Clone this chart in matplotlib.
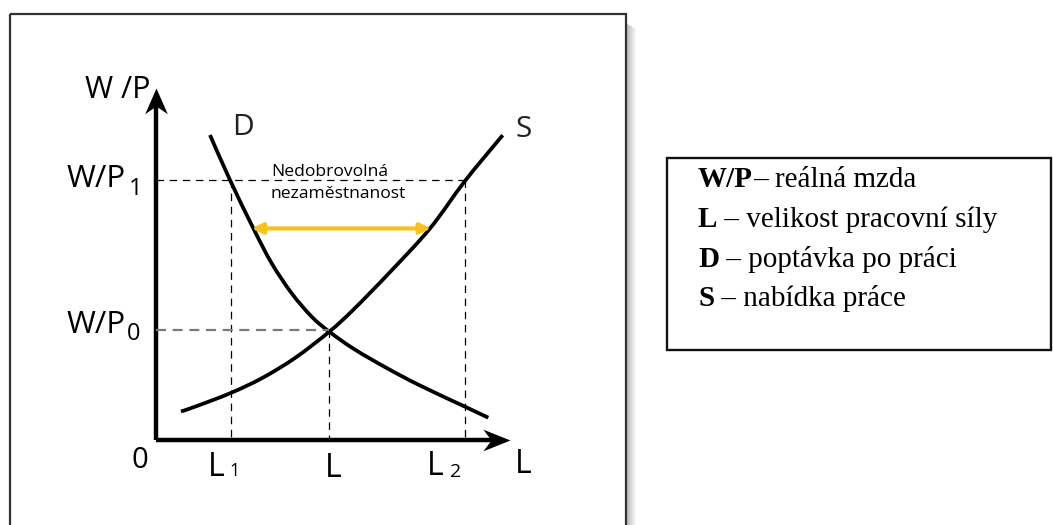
import matplotlib
matplotlib.use("Agg")
import matplotlib.pyplot as plt
from matplotlib.path import Path
from matplotlib.markers import MarkerStyle
from matplotlib.patches import Rectangle, PathPatch
from matplotlib.transforms import Affine2D

# ---------------- data (economic units: origin = axes origin) ----------------
D_L = [1.525, 2.090, 2.749, 3.268, 3.833, 4.398, 4.895, 5.593, 6.517, 7.458, 8.729, 9.387]
D_W = [8.665, 7.386, 6.014, 5.020, 4.168, 3.503, 3.077, 2.585, 2.045, 1.548, 0.946, 0.634]
S_L = [0.706, 1.102, 2.090, 2.986, 3.927, 4.895, 5.573, 6.610, 7.740, 8.729, 9.794]
S_W = [0.810, 0.946, 1.327, 1.753, 2.330, 3.077, 3.700, 4.770, 6.010, 7.360, 8.660]

L_EQ, WP0 = 4.895, 3.12       # equilibrium
WP1 = 7.39                    # real wage above equilibrium
L1, L2 = 2.12, 8.73           # demand / supply at WP1
GAP_Y, GAP_L, GAP_R = 6.01, 2.70, 7.77   # yellow arrow (involuntary unemployment)
AXIS_MAX = 10.0

legend_bold = ["W/P", "L", "D", "S"]
legend_rest = ["– reálná mzda", " – velikost pracovní síly", " – poptávka po práci", " – nabídka práce"]

# ---------------- figure ----------------
W, H = 1053, 525
fig = plt.figure(figsize=(W / 100, H / 100), dpi=100)
fig.patch.set_facecolor("white")
ax = fig.add_axes([0, 0, 1, 1])
ax.axis("off")
XS, YS, X0, Y0 = 35.4, 35.2, 156, 440   # px per unit, origin in px
ax.set_xlim(-X0 / XS, (W - X0) / XS)
ax.set_ylim(-(H - Y0) / YS, Y0 / YS)

px = Affine2D().scale(1 / W, -1 / H).translate(0, 1) + fig.transFigure

# outer frame with shadow
for i in range(9):
    fig.patches.append(Rectangle((627 + i, 24 + i * 0.6), 1, 600, transform=px,
                                 facecolor="black", alpha=0.26 * (1 - i / 9), lw=0))
fig.patches.append(Rectangle((10, 14), 616, 600, transform=px, fill=False,
                             edgecolor="#333333", lw=1.6))

# legend box
fig.patches.append(Rectangle((667, 158), 384, 192, transform=px, fill=False,
                             edgecolor="#111111", lw=1.7))

# axes lines and arrowheads
up = MarkerStyle(Path([(0, 0), (-0.44, -1), (0, -0.7), (0.44, -1), (0, 0)],
                      [1, 2, 2, 2, 79]))
right = MarkerStyle(Path([(0, 0), (-1, 0.4), (-0.7, 0), (-1, -0.4), (0, 0)],
                         [1, 2, 2, 2, 79]))
ax.plot([0, 0], [0, AXIS_MAX - 0.4], color="black", lw=3.2, solid_capstyle="butt")
ax.plot([0, AXIS_MAX - 0.4], [0, 0], color="black", lw=3.2, solid_capstyle="butt")
ax.plot([0], [AXIS_MAX], marker=up, ms=37, color="black", mew=0)
ax.plot([AXIS_MAX], [0], marker=right, ms=39, color="black", mew=0)

# dashed guides
thin = dict(color="black", lw=0.9, linestyle=(0, (6, 4.5)))
ax.plot([0, L2], [WP1, WP1], **thin)
ax.plot([L1, L1], [WP1, 0], **thin)
ax.plot([L2, L2], [WP1, 0], **thin)
ax.plot([L_EQ, L_EQ], [WP0, 0], **thin)
ax.plot([0, L_EQ], [WP0, WP0], color="#7a7a7a", lw=1.6, linestyle=(0, (4.5, 3)))


# curves: smooth cubic Bezier path through the read points (Catmull-Rom tangents)
def smooth_path(xs, ys):
    pts = list(zip(xs, ys))
    verts = [pts[0]]
    codes = [Path.MOVETO]
    n = len(pts)
    for i in range(n - 1):
        p0 = pts[i - 1] if i > 0 else pts[i]
        p1, p2 = pts[i], pts[i + 1]
        p3 = pts[i + 2] if i + 2 < n else pts[i + 1]
        c1 = (p1[0] + (p2[0] - p0[0]) / 6, p1[1] + (p2[1] - p0[1]) / 6)
        c2 = (p2[0] - (p3[0] - p1[0]) / 6, p2[1] - (p3[1] - p1[1]) / 6)
        verts += [c1, c2, p2]
        codes += [Path.CURVE4] * 3
    return Path(verts, codes)


for xs, ys in ((D_L, D_W), (S_L, S_W)):
    ax.add_patch(PathPatch(smooth_path(xs, ys), fill=False, edgecolor="black",
                           lw=2.7, capstyle="butt", joinstyle="round"))

# yellow double arrow
ax.annotate("", xy=(GAP_L, GAP_Y), xytext=(GAP_R, GAP_Y),
            arrowprops=dict(arrowstyle="<|-|>,head_length=0.45,head_width=0.22",
                            color="#F7C21B", lw=3.0, shrinkA=0, shrinkB=0,
                            mutation_scale=14))

# ---------------- labels ----------------
def dx(p):
    return (p - X0) / XS

def dy(p):
    return (Y0 - p) / YS

F = "Open Sans"
big = dict(family=F, color="black", va="baseline")
ax.text(dx(151), dy(98), "W /P", ha="right", fontsize=22, **big)
ax.text(dx(126), dy(187), "W/P", ha="right", fontsize=22.5, **big)
ax.text(dx(129), dy(195), "1", ha="left", fontsize=17, **big)
ax.text(dx(126), dy(333), "W/P", ha="right", fontsize=22.5, **big)
ax.text(dx(127), dy(340), "0", ha="left", fontsize=17, **big)
ax.text(dx(140), dy(468), "0", ha="center", fontsize=21, **big)
ax.text(dx(208), dy(476), "L", ha="left", fontsize=23, **big)
ax.text(dx(229), dy(476), "1", ha="left", fontsize=13, **big)
ax.text(dx(333), dy(477), "L", ha="center", fontsize=23, **big)
ax.text(dx(427), dy(475), "L", ha="left", fontsize=23, **big)
ax.text(dx(450), dy(477), "2", ha="left", fontsize=14, **big)
ax.text(dx(515), dy(473), "L", ha="left", fontsize=23, **big)
ax.text(dx(243), dy(135), "D", ha="center", fontsize=21.5, color="#222222", family=F, va="baseline")
ax.text(dx(524), dy(137), "S", ha="center", fontsize=21.5, color="#222222", family=F, va="baseline")
ax.text(dx(271), dy(176), "Nedobrovolná", ha="left", fontsize=12.6, **big)
ax.text(dx(271), dy(198), "nezaměstnanost", ha="left", fontsize=12.6, **big)

# legend text
baselines = [187, 227, 267, 306]
for b, rest, yb in zip(legend_bold, legend_rest, baselines):
    t1 = ax.text(698 / W, 1 - yb / H, b, transform=fig.transFigure, family="Liberation Serif",
                 fontsize=21, fontweight="bold", ha="left", va="baseline")
    ax.annotate(rest, xy=(1, 0), xycoords=t1, family="Liberation Serif", fontsize=21,
                ha="left", va="bottom")

fig.savefig("out.png", dpi=100)
